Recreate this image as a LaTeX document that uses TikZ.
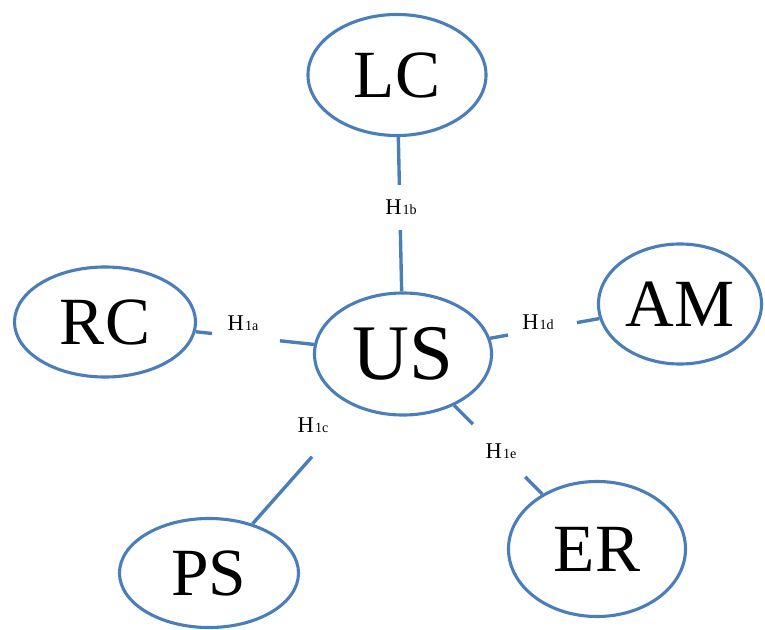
\documentclass[tikz,border=0pt]{standalone}
\usepackage{fontspec}
\setmainfont{Liberation Serif}
\usetikzlibrary{shapes.geometric, calc}
\definecolor{edgeblue}{HTML}{4A7EBB}
\tikzset{
  topic/.style={
    ellipse,
    draw=edgeblue,
    line width=2.2pt,
    fill=white,
    inner sep=0pt,
    font=\fontsize{48}{48}\selectfont
  },
  core topic/.style={
    topic,
    font=\fontsize{56}{56}\selectfont
  },
  link/.style={
    line width=2.4pt,
    color=edgeblue
  },
  hyp/.style={
    inner sep=0pt,
    font=\fontsize{16}{16}\selectfont
  }
}
\newcommand{\hsub}[1]{H\kern0.8pt{\fontsize{10}{10}\selectfont #1}}

\begin{document}
\begin{tikzpicture}[x=0.025cm, y=-0.025cm]
  \useasboundingbox (0,0) rectangle (765,630);

  % constructs
  \node[core topic, minimum width=4.425cm, minimum height=3.05cm] (us) at (403,354) {US};
  \node[topic, minimum width=4.45cm, minimum height=3.025cm] (lc) at (397,75) {LC};
  \node[topic, minimum width=4.525cm, minimum height=2.75cm] (rc) at (105,322) {RC};
  \node[topic, minimum width=4.075cm, minimum height=3.0cm] (am) at (680,304) {AM};
  \node[topic, minimum width=4.475cm, minimum height=2.725cm] (ps) at (209,573) {PS};
  \node[topic, minimum width=4.425cm, minimum height=3.375cm] (er) at (597,549) {ER};

  % ends of the broken links
  \coordinate (b1) at ($(lc)!0.394!(us)$);
  \coordinate (b2) at ($(lc)!0.556!(us)$);
  \coordinate (a1) at ($(rc)!0.359!(us)$);
  \coordinate (a2) at ($(rc)!0.587!(us)$);
  \coordinate (d1) at ($(us)!0.379!(am)$);
  \coordinate (d2) at ($(us)!0.628!(am)$);
  \coordinate (c1) at ($(ps)!0.531!(us)$);
  \coordinate (e1) at ($(us)!0.36!(er)$);
  \coordinate (e2) at ($(us)!0.63!(er)$);

  \draw[link] (lc) -- (b1);
  \draw[link] (b2) -- (us);
  \draw[link] (rc) -- (a1);
  \draw[link] (a2) -- (us);
  \draw[link] (us) -- (d1);
  \draw[link] (d2) -- (am);
  \draw[link] (ps) -- (c1);
  \draw[link] (us) -- (e1);
  \draw[link] (e2) -- (er);

  % hypotheses
  \node[hyp] (h1a) at (243,323) {\hsub{1a}};
  \node[hyp] (h1b) at (401,207) {\hsub{1b}};
  \node[hyp] (h1c) at (313,425) {\hsub{1c}};
  \node[hyp] (h1d) at (538,322) {\hsub{1d}};
  \node[hyp] (h1e) at (501,451) {\hsub{1e}};
\end{tikzpicture}
\end{document}
